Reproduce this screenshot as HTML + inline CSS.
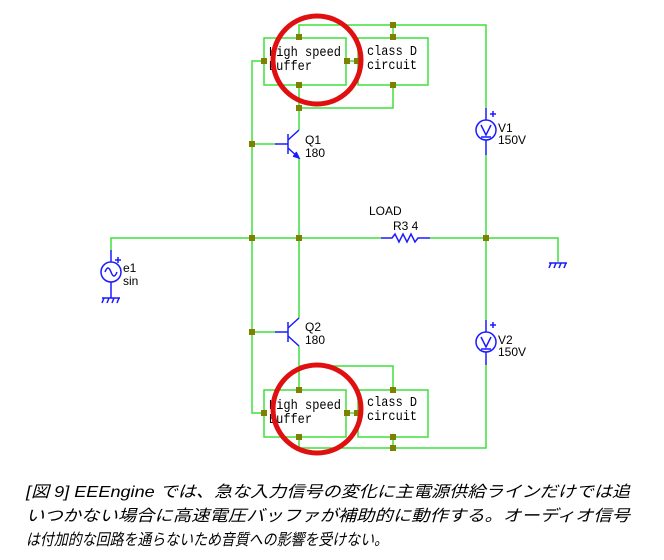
<!DOCTYPE html>
<html><head><meta charset="utf-8"><style>
html,body{margin:0;padding:0;background:#fff;}
svg{display:block}
</style></head><body>
<svg width="664" height="560" xmlns="http://www.w3.org/2000/svg">
<g fill="none" stroke="#3de03d" stroke-width="1.5">
<polyline points="299,37 299,25 486,25 486,108"/>
<line x1="393" y1="25" x2="393" y2="38"/>
<rect x="264" y="38" width="82" height="47"/>
<rect x="358" y="38" width="70" height="47"/>
<line x1="347" y1="61" x2="357" y2="61"/>
<polyline points="264,61 252,61 252,413 264,413"/>
<polyline points="299,85 299,130"/>
<polyline points="299,108 393,108 393,85"/>
<line x1="252" y1="144" x2="275" y2="144"/>
<line x1="299" y1="158" x2="299" y2="318"/>
<polyline points="111,250 111,238 381,238"/>
<polyline points="430,238 558,238 558,262"/>
<line x1="486" y1="155" x2="486" y2="320"/>
<line x1="252" y1="332" x2="275" y2="332"/>
<line x1="299" y1="346" x2="299" y2="390"/>
<polyline points="299,366 393,366 393,390"/>
<rect x="264" y="390" width="82" height="47"/>
<rect x="358" y="390" width="70" height="47"/>
<line x1="347" y1="413" x2="357" y2="413"/>
<polyline points="299,437 299,448 486,448 486,365"/>
<line x1="393" y1="437" x2="393" y2="448"/>
</g>
<g fill="none" stroke="#1a1aff" stroke-width="1.5">
<line x1="275" y1="144" x2="288" y2="144"/><line x1="288" y1="134" x2="288" y2="154"/>
<line x1="288" y1="140" x2="299" y2="130"/><line x1="288" y1="148" x2="299" y2="158"/>
<path d="M293,156 L299,158 L296,152" fill="#1a1aff"/>
<line x1="275" y1="332" x2="288" y2="332"/><line x1="288" y1="322" x2="288" y2="342"/>
<line x1="288" y1="328" x2="299" y2="318"/><line x1="288" y1="336" x2="299" y2="346"/>
<line x1="486" y1="108" x2="486" y2="120"/><circle cx="486" cy="130" r="10"/><line x1="486" y1="140" x2="486" y2="155"/>
<path d="M481,125 L486,135 L491,125 M481,137 L491,137"/>
<path d="M490,114 h6 M493,111 v6"/>
<line x1="486" y1="320" x2="486" y2="332"/><circle cx="486" cy="342" r="10"/><line x1="486" y1="352" x2="486" y2="365"/>
<path d="M481,337 L486,347 L491,337 M481,349 L491,349"/>
<path d="M490,325 h6 M493,322 v6"/>
<path d="M381,238 H392 L395,234 L399,242 L403,234 L407,242 L411,234 L415,242 L418,238 H430"/>
<line x1="111" y1="250" x2="111" y2="262"/><circle cx="111" cy="272" r="10"/>
<path d="M105,272 q3,-8 6,0 q3,8 6,0"/>
<line x1="111" y1="282" x2="111" y2="298"/>
<path d="M102,298 h18 M104,298 l-2,5 M109,298 l-2,5 M114,298 l-2,5 M119,298 l-2,5"/>
<path d="M115,260 h6 M118,257 v6"/>
<path d="M549,263 h18 M551,263 l-2,5 M556,263 l-2,5 M561,263 l-2,5 M566,263 l-2,5"/>
</g>
<g fill="#808000">
<rect x="296" y="34" width="6" height="6"/><rect x="390" y="22" width="6" height="6"/><rect x="390" y="34" width="6" height="6"/>
<rect x="261" y="58" width="6" height="6"/><rect x="344" y="58" width="6" height="6"/><rect x="354" y="58" width="6" height="6"/>
<rect x="296" y="82" width="6" height="6"/><rect x="390" y="82" width="6" height="6"/><rect x="296" y="105" width="6" height="6"/>
<rect x="249" y="141" width="6" height="6"/><rect x="249" y="235" width="6" height="6"/><rect x="296" y="235" width="6" height="6"/>
<rect x="483" y="235" width="6" height="6"/><rect x="249" y="329" width="6" height="6"/>
<rect x="296" y="387" width="6" height="6"/><rect x="390" y="387" width="6" height="6"/>
<rect x="261" y="410" width="6" height="6"/><rect x="344" y="410" width="6" height="6"/><rect x="354" y="410" width="6" height="6"/>
<rect x="296" y="434" width="6" height="6"/><rect x="390" y="434" width="6" height="6"/><rect x="390" y="445" width="6" height="6"/>
</g>
<g font-family="'Liberation Mono',monospace" font-size="14" fill="#000">
<text x="269" y="56" textLength="72" lengthAdjust="spacingAndGlyphs">High speed</text><text x="269" y="70" textLength="43" lengthAdjust="spacingAndGlyphs">Buffer</text>
<text x="367" y="55" textLength="50" lengthAdjust="spacingAndGlyphs">class D</text><text x="367" y="69" textLength="50" lengthAdjust="spacingAndGlyphs">circuit</text>
<text x="269" y="409" textLength="72" lengthAdjust="spacingAndGlyphs">High speed</text><text x="269" y="423" textLength="43" lengthAdjust="spacingAndGlyphs">Buffer</text>
<text x="367" y="406" textLength="50" lengthAdjust="spacingAndGlyphs">class D</text><text x="367" y="420" textLength="50" lengthAdjust="spacingAndGlyphs">circuit</text>
</g>
<g font-family="'Liberation Sans',sans-serif" font-size="12" fill="#000">
<text x="305" y="144">Q1</text><text x="305" y="157">180</text>
<text x="305" y="331">Q2</text><text x="305" y="344">180</text>
<text x="498" y="132">V1</text><text x="498" y="144">150V</text>
<text x="498" y="344">V2</text><text x="498" y="356">150V</text>
<text x="123" y="272">e1</text><text x="123" y="285">sin</text>
<text x="369" y="215">LOAD</text><text x="393" y="230">R3 4</text>
</g>
<g fill="none" stroke="#e01010" stroke-width="5">
<circle cx="317" cy="60" r="44"/>
<circle cx="317" cy="409" r="44"/>
</g>
<g font-family="'Liberation Sans','Noto Sans CJK JP',sans-serif" font-size="16" fill="#000" font-style="italic">
<text x="26" y="497" textLength="604" lengthAdjust="spacingAndGlyphs">[図 9] EEEngine では、急な入力信号の変化に主電源供給ラインだけでは追</text>
<text x="26" y="521" textLength="604" lengthAdjust="spacingAndGlyphs">いつかない場合に高速電圧バッファが補助的に動作する。オーディオ信号</text>
<text x="26" y="545" textLength="362" lengthAdjust="spacingAndGlyphs">は付加的な回路を通らないため音質への影響を受けない。</text>
</g>
</svg>
</body></html>
